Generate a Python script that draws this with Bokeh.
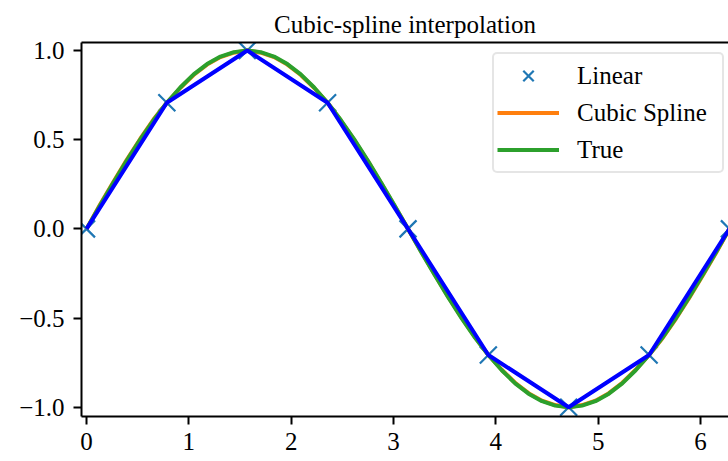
from bokeh.plotting import figure
from bokeh.models import LinearAxis, FixedTicker, Legend, LegendItem, Range1d
from bokeh.embed import file_html
from bokeh.resources import INLINE

# sample points (knots)
x_knots = [0.0, 0.785, 1.571, 2.356, 3.142, 3.927, 4.712, 5.498, 6.283]
y_knots = [0.0, 0.707, 1.0, 0.707, 0.0, -0.707, -1.0, -0.707, 0.0]

# fine grid for the smooth curves
x_fine = [0.0, 0.131, 0.262, 0.393, 0.524, 0.654, 0.785, 0.916, 1.047, 1.178,
          1.309, 1.440, 1.571, 1.702, 1.833, 1.963, 2.094, 2.225, 2.356, 2.487,
          2.618, 2.749, 2.880, 3.011, 3.142, 3.272, 3.403, 3.534, 3.665, 3.796,
          3.927, 4.058, 4.189, 4.320, 4.451, 4.581, 4.712, 4.843, 4.974, 5.105,
          5.236, 5.367, 5.498, 5.629, 5.760, 5.890, 6.021, 6.152, 6.283]
y_true = [0.0, 0.131, 0.259, 0.383, 0.5, 0.609, 0.707, 0.793, 0.866, 0.924,
          0.966, 0.991, 1.0, 0.991, 0.966, 0.924, 0.866, 0.793, 0.707, 0.609,
          0.5, 0.383, 0.259, 0.131, 0.0, -0.131, -0.259, -0.383, -0.5, -0.609,
          -0.707, -0.793, -0.866, -0.924, -0.966, -0.991, -1.0, -0.991, -0.966, -0.924,
          -0.866, -0.793, -0.707, -0.609, -0.5, -0.383, -0.259, -0.131, 0.0]
y_spline = [0.0, 0.135, 0.263, 0.387, 0.504, 0.613, 0.707, 0.790, 0.863, 0.921,
            0.963, 0.988, 1.0, 0.988, 0.963, 0.921, 0.863, 0.790, 0.707, 0.606,
            0.497, 0.380, 0.256, 0.128, 0.0, -0.128, -0.256, -0.380, -0.497, -0.606,
            -0.707, -0.790, -0.863, -0.921, -0.963, -0.988, -1.0, -0.988, -0.963, -0.921,
            -0.863, -0.790, -0.707, -0.613, -0.504, -0.387, -0.263, -0.135, 0.0]

x_ticks = [0, 1, 2, 3, 4, 5, 6]
y_ticks = [-1.0, -0.5, 0.0, 0.5, 1.0]
y_tick_labels = ["\u22121.0", "\u22120.5", "0.0", "0.5", "1.0"]

FONT = "Liberation Serif"
FS = "25px"

p = figure(width=728, height=461,
           x_range=Range1d(-0.049, 6.274), y_range=Range1d(-1.052, 1.045),
           output_backend="svg", toolbar_location=None,
           min_border_left=81, min_border_right=0, min_border_top=42, min_border_bottom=45,
           title="Cubic-spline interpolation")

p.xgrid.visible = False
p.ygrid.visible = False
p.outline_line_color = None
p.background_fill_color = "white"
p.border_fill_color = "white"

p.title.text_font = FONT
p.title.text_font_size = FS
p.title.text_font_style = "normal"
p.title.align = "center"
p.title.text_color = "black"

for ax in (p.xaxis[0], p.yaxis[0]):
    ax.axis_line_width = 2
    ax.axis_line_color = "black"
    ax.major_tick_line_width = 2
    ax.major_tick_line_color = "black"
    ax.major_tick_out = 8
    ax.major_tick_in = 0
    ax.minor_tick_line_color = None
    ax.major_label_text_font = FONT
    ax.major_label_text_font_size = FS
    ax.major_label_text_color = "black"

p.xaxis[0].ticker = FixedTicker(ticks=x_ticks)
p.xaxis[0].major_label_standoff = 8
p.yaxis[0].ticker = FixedTicker(ticks=y_ticks)
p.yaxis[0].major_label_overrides = {t: l for t, l in zip(y_ticks, y_tick_labels)}
p.yaxis[0].major_label_standoff = 9

top = LinearAxis(ticker=FixedTicker(ticks=[]), axis_line_width=2, axis_line_color="black",
                 major_tick_out=0, major_tick_in=0, minor_tick_out=0, minor_tick_in=0,
                 major_label_text_font_size="0px")
p.add_layout(top, "above")

r_marker = p.scatter(x_knots, y_knots, marker="x", size=24, line_color="#1f77b4", line_width=2.2)
r_spline = p.line(x_fine, y_spline, line_color="#ff7f0e", line_width=4)
r_true = p.line(x_fine, y_true, line_color="#2ca02c", line_width=4)
r_lin = p.line(x_knots, y_knots, line_color="#0000ff", line_width=4)

legend = Legend(items=[LegendItem(label="Linear", renderers=[r_marker]),
                       LegendItem(label="Cubic Spline", renderers=[r_spline]),
                       LegendItem(label="True", renderers=[r_true])],
                location=(411, 243), margin=0,
                label_text_font=FONT, label_text_font_size=FS, label_text_color="black",
                glyph_width=62, glyph_height=37, label_height=37, label_width=142,
                label_standoff=18, spacing=0, padding=3,
                border_line_color="#cccccc", border_line_width=2, border_radius=5,
                background_fill_color="white", background_fill_alpha=0.8)
p.add_layout(legend)

open("out.html", "w").write(file_html(p, INLINE))
